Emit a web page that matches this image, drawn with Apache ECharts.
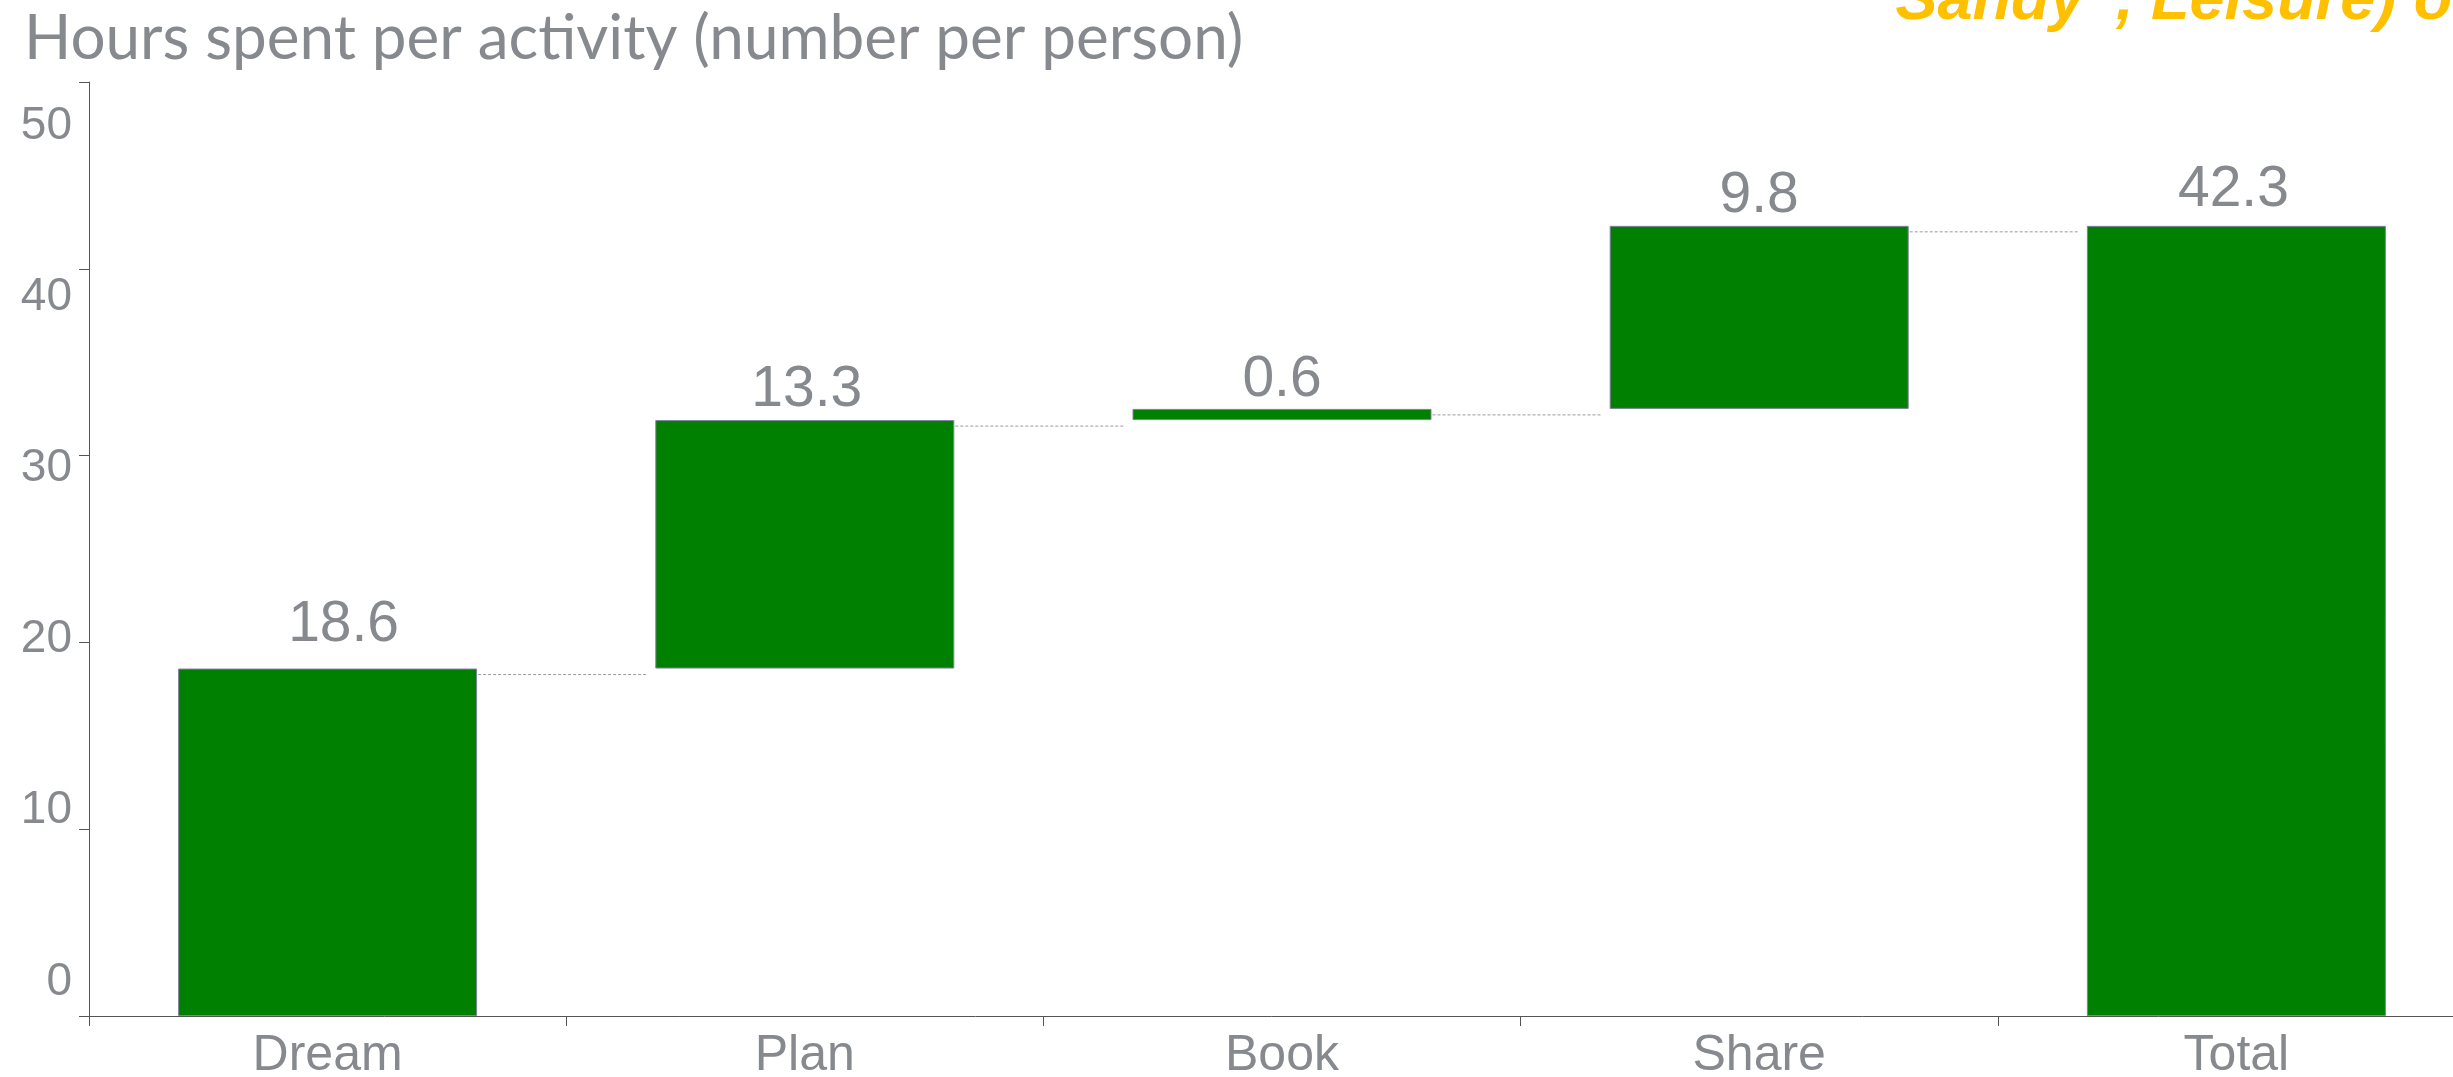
<!DOCTYPE html>
<html>
<head>
<meta charset="utf-8">
<script src="https://cdn.jsdelivr.net/npm/echarts@6/dist/echarts.min.js"></script>
<style>
html,body{margin:0;padding:0;background:#fff;}
#chart{width:2453px;height:1077px;}
</style>
</head>
<body>
<div id="chart"></div>
<script>
const categories = ['Dream', 'Plan', 'Book', 'Share', 'Total'];
const values = [18.6, 13.3, 0.6, 9.8, 42.3];
const isTotal = [false, false, false, false, true];
const yMin = 0, yMax = 50, yInterval = 10;
const titleText = 'Hours spent per activity (number per person)';
const noteText = '\u201CSandy\u201D, Leisure) on';

// waterfall bases derived from the values
const bases = [];
const tops = [];
let run = 0;
values.forEach((v, i) => {
  if (isTotal[i]) { bases.push(0); tops.push(v); run = v; }
  else { bases.push(run); run += v; tops.push(run); }
});
const connectors = [];
for (let i = 0; i < values.length - 1; i++) connectors.push([i, tops[i]]);

// styling
const GRAY = '#86898e';
const AXIS = '#555';
const BARW = 299;
const LABEL_DIST = [15, 1, 0, 1, 7];
const LABEL_DX = [16, 2, 0, 0, -3];

const chart = echarts.init(document.getElementById('chart'), null, {renderer: 'canvas'});
chart.setOption({
  animation: false,
  backgroundColor: '#fff',
  title: [
    {text: titleText, left: 24, top: 8, padding: 0,
     textStyle: {fontFamily: 'Lato', fontWeight: 'normal', fontSize: 62, color: GRAY}},
  ],
  graphic: [{
    type: 'text', left: 1864, top: -30, silent: true,
    style: {text: noteText, fill: '#FFC000', font: 'italic bold 63px "Liberation Sans"'}
  }],
  grid: [
    {left: 89, width: 2386, top: 82, bottom: 61, containLabel: false, outerBoundsMode: 'none'},
    {left: 89, width: 2386, top: 126, bottom: 95, containLabel: false, outerBoundsMode: 'none'}
  ],
  xAxis: [
    {type: 'category', data: categories, gridIndex: 0, boundaryGap: true,
     axisLine: {show: true, lineStyle: {color: AXIS, width: 1}},
     axisTick: {show: true, interval: 0, length: 10, lineStyle: {color: AXIS}},
     axisLabel: {interval: 0, color: GRAY, fontSize: 50, fontFamily: 'Liberation Sans', margin: 15},
     splitLine: {show: false}},
    {type: 'category', data: categories, gridIndex: 1, show: false}
  ],
  yAxis: [
    {type: 'value', gridIndex: 0, min: yMin, max: yMax, interval: yInterval,
     axisLine: {show: true, lineStyle: {color: AXIS, width: 1}},
     axisTick: {show: true, length: 10, lineStyle: {color: AXIS}},
     axisLabel: {show: false},
     splitLine: {show: false}},
    {type: 'value', gridIndex: 1, min: yMin, max: yMax, interval: yInterval,
     axisLine: {show: false}, axisTick: {show: false}, splitLine: {show: false},
     axisLabel: {show: true, color: GRAY, fontSize: 46, fontFamily: 'Liberation Sans', margin: 17}}
  ],
  series: [
    {type: 'bar', stack: 'wf', xAxisIndex: 0, yAxisIndex: 0, barWidth: BARW,
     data: bases, itemStyle: {color: 'transparent', borderColor: 'transparent'},
     emphasis: {disabled: true}, silent: true},
    {type: 'bar', stack: 'wf', xAxisIndex: 0, yAxisIndex: 0, barWidth: BARW,
     data: values.map((v, i) => ({value: v, label: {distance: LABEL_DIST[i], offset: [LABEL_DX[i], 0]}})),
     itemStyle: {color: '#008000', borderColor: '#8080a0', borderWidth: 1},
     label: {show: true, position: 'top', color: GRAY, fontSize: 57,
             fontFamily: 'Liberation Sans', formatter: p => p.value.toFixed(1)}},
    {type: 'custom', xAxisIndex: 0, yAxisIndex: 0, data: connectors, silent: true,
     renderItem: function (params, api) {
       const i = api.value(0), lvl = api.value(1);
       const p = api.coord([i, lvl]);
       const q = api.coord([i + 1, lvl]);
       return {type: 'line',
         shape: {x1: p[0] + BARW / 2 + 1, y1: p[1] + 6, x2: q[0] - BARW / 2 - 8, y2: p[1] + 6},
         style: {stroke: '#9a9a9a', lineWidth: 1, lineDash: [3, 2]}};
     }}
  ]
});
</script>
</body>
</html>
